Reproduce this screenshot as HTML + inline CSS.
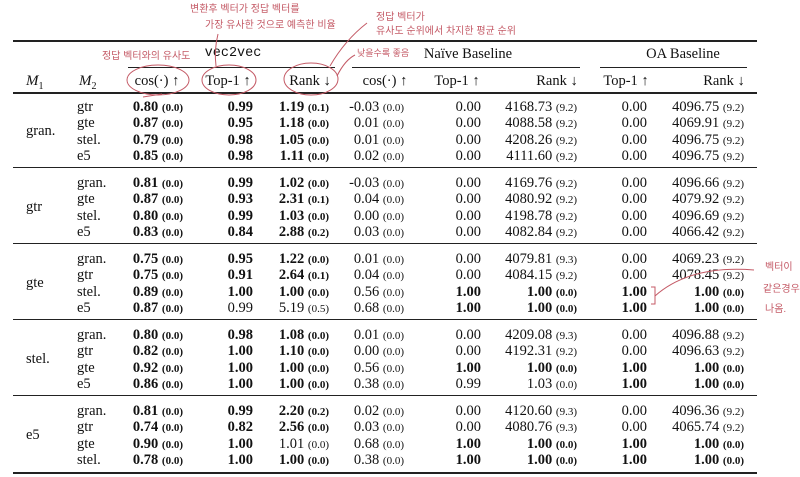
<!DOCTYPE html>
<html><head><meta charset="utf-8"><style>
body{margin:0;width:800px;height:477px;background:#fff;position:relative;overflow:hidden;font-family:"Liberation Serif",serif;color:#111}
.t{position:absolute;white-space:nowrap;font-size:14.5px;line-height:16px}
.c{transform:translateX(-50%)}
.s{font-size:11px}
.b{font-weight:bold}
.rule{position:absolute;background:#222}
.k{position:absolute;white-space:nowrap;color:#c45a66;font-family:"Liberation Sans","Noto Sans CJK KR",sans-serif;font-size:10px;line-height:12px}
</style></head><body>
<div id="tbl">
<div class="rule" style="left:13px;top:40px;width:744px;height:2px"></div>
<div class="rule" style="left:128px;top:67px;width:207px;height:1px"></div>
<div class="rule" style="left:352px;top:67px;width:228px;height:1px"></div>
<div class="rule" style="left:600px;top:67px;width:147px;height:1px"></div>
<div class="rule" style="left:13px;top:92px;width:744px;height:1.5px"></div>
<div class="t c" style="left:233px;top:46px;font-family:'Liberation Mono',monospace;font-size:13.5px">vec2vec</div>
<div class="t c" style="left:468px;top:46px">Naïve Baseline</div>
<div class="t c" style="left:683px;top:46px">OA Baseline</div>
<div class="t" style="left:26px;top:73px;font-style:italic;font-size:15px">M<sub style="font-size:10px;font-style:normal">1</sub></div>
<div class="t" style="left:79px;top:73px;font-style:italic;font-size:15px">M<sub style="font-size:10px;font-style:normal">2</sub></div>
<div class="t c" style="left:157px;top:73px">cos(·) ↑</div>
<div class="t c" style="left:228px;top:73px">Top-1 ↑</div>
<div class="t c" style="left:310px;top:73px">Rank ↓</div>
<div class="t c" style="left:385px;top:73px">cos(·) ↑</div>
<div class="t c" style="left:457px;top:73px">Top-1 ↑</div>
<div class="t c" style="left:557px;top:73px">Rank ↓</div>
<div class="t c" style="left:626px;top:73px">Top-1 ↑</div>
<div class="t c" style="left:724px;top:73px">Rank ↓</div>
</div>

<div class="k" style="left:190px;top:4px">변환후 벡터가 정답 벡터를</div>
<div class="k" style="left:205px;top:20px">가장 유사한 것으로 예측한 비율</div>
<div class="k" style="left:376px;top:12px">정답 벡터가</div>
<div class="k" style="left:376px;top:26px">유사도 순위에서 차지한 평균 순위</div>
<div class="k" style="left:357px;top:47px;font-size:9px">낮을수록 좋음</div>
<div class="k" style="left:102px;top:51px">정답 벡터와의 유사도</div>
<div class="k" style="left:765px;top:262px">벡터이</div>
<div class="k" style="left:763px;top:284px">같은경우로</div>
<div class="k" style="left:765px;top:304px">나옴.</div>
<svg width="800" height="477" style="position:absolute;left:0;top:0">
<g fill="none" stroke="#c45a66" stroke-width="1">
<ellipse cx="158" cy="80" rx="31" ry="15"/>
<ellipse cx="229" cy="80" rx="27" ry="15"/>
<ellipse cx="311" cy="79" rx="27" ry="16"/>
<path d="M216 66 Q214 50 218 34"/>
<path d="M330 66 Q345 40 367 23"/>
<path d="M337 76 Q345 60 355 55"/>
<path d="M143 97 L162 94"/>
<path d="M651 287 L655 287 L655 304 L651 304"/>
<path d="M655 296 Q690 265 754 270"/>
</g></svg>

<script>
const groups=["gran.","gtr","gte","stel.","e5"];
const m2s=[["gtr","gte","stel.","e5"],["gran.","gte","stel.","e5"],["gran.","gtr","stel.","e5"],["gran.","gtr","gte","e5"],["gran.","gtr","gte","stel."]];
// "*" = bold; "|" separates main value and std
const rows=[
["*0.80|0.0","*0.99","*1.19|0.1","-0.03|0.0","0.00","4168.73|9.2","0.00","4096.75|9.2"],
["*0.87|0.0","*0.95","*1.18|0.0","0.01|0.0","0.00","4088.58|9.2","0.00","4069.91|9.2"],
["*0.79|0.0","*0.98","*1.05|0.0","0.01|0.0","0.00","4208.26|9.2","0.00","4096.75|9.2"],
["*0.85|0.0","*0.98","*1.11|0.0","0.02|0.0","0.00","4111.60|9.2","0.00","4096.75|9.2"],
["*0.81|0.0","*0.99","*1.02|0.0","-0.03|0.0","0.00","4169.76|9.2","0.00","4096.66|9.2"],
["*0.87|0.0","*0.93","*2.31|0.1","0.04|0.0","0.00","4080.92|9.2","0.00","4079.92|9.2"],
["*0.80|0.0","*0.99","*1.03|0.0","0.00|0.0","0.00","4198.78|9.2","0.00","4096.69|9.2"],
["*0.83|0.0","*0.84","*2.88|0.2","0.03|0.0","0.00","4082.84|9.2","0.00","4066.42|9.2"],
["*0.75|0.0","*0.95","*1.22|0.0","0.01|0.0","0.00","4079.81|9.3","0.00","4069.23|9.2"],
["*0.75|0.0","*0.91","*2.64|0.1","0.04|0.0","0.00","4084.15|9.2","0.00","4078.45|9.2"],
["*0.89|0.0","*1.00","*1.00|0.0","0.56|0.0","*1.00","*1.00|0.0","*1.00","*1.00|0.0"],
["*0.87|0.0","0.99","5.19|0.5","0.68|0.0","*1.00","*1.00|0.0","*1.00","*1.00|0.0"],
["*0.80|0.0","*0.98","*1.08|0.0","0.01|0.0","0.00","4209.08|9.3","0.00","4096.88|9.2"],
["*0.82|0.0","*1.00","*1.10|0.0","0.00|0.0","0.00","4192.31|9.2","0.00","4096.63|9.2"],
["*0.92|0.0","*1.00","*1.00|0.0","0.56|0.0","*1.00","*1.00|0.0","*1.00","*1.00|0.0"],
["*0.86|0.0","*1.00","*1.00|0.0","0.38|0.0","0.99","1.03|0.0","*1.00","*1.00|0.0"],
["*0.81|0.0","*0.99","*2.20|0.2","0.02|0.0","0.00","4120.60|9.3","0.00","4096.36|9.2"],
["*0.74|0.0","*0.82","*2.56|0.0","0.03|0.0","0.00","4080.76|9.3","0.00","4065.74|9.2"],
["*0.90|0.0","*1.00","1.01|0.0","0.68|0.0","*1.00","*1.00|0.0","*1.00","*1.00|0.0"],
["*0.78|0.0","*1.00","*1.00|0.0","0.38|0.0","*1.00","*1.00|0.0","*1.00","*1.00|0.0"]
];
const colRight=[183,253,329,404,481,577,647,744];
const groupTop=[99,175,251,327,403];
const tbl=document.getElementById('tbl');
groups.forEach((g,gi)=>{
  const y0=groupTop[gi];
  const lab=document.createElement('div');
  lab.className='t';
  lab.style.left='26px';lab.style.top=(y0+24)+'px';
  lab.textContent=g;
  
  
  tbl.appendChild(lab);
  if(gi>0){
    const ru=document.createElement('div');
    ru.className='rule';
    ru.style.cssText='left:13px;top:'+(y0-8)+'px;width:744px;height:1px';
    
    
    tbl.appendChild(ru);
  }
  m2s[gi].forEach((m,ri)=>{
    const y=y0+ri*16.3;
    const d=document.createElement('div');
    d.className='t';d.style.left='77px';d.style.top=y+'px';d.textContent=m;
    
    
    tbl.appendChild(d);
    rows[gi*4+ri].forEach((v,ci)=>{
      let bold=v[0]==='*';if(bold)v=v.slice(1);
      const [a,s]=v.split('|');
      const c=document.createElement('div');
      c.className='t'+(bold?' b':'');
      c.style.right=(800-colRight[ci])+'px';c.style.top=y+'px';
      c.innerHTML=a+(s!==undefined?' <span class="s">('+s+')</span>':'');
      
      
      tbl.appendChild(c);
    });
  });
});
const br=document.createElement('div');
br.className='rule';br.style.cssText='left:13px;top:472px;width:744px;height:2px';


tbl.appendChild(br);
</script>
</body></html>
